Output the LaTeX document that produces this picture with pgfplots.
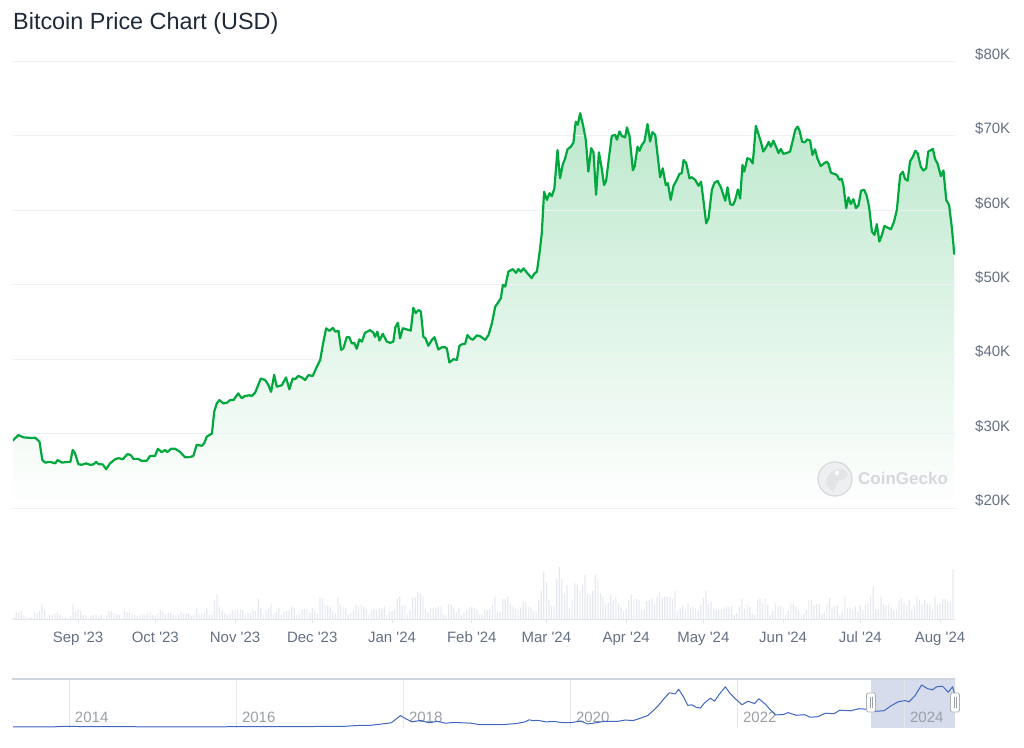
\documentclass[border=0pt]{standalone}
\usepackage{fontspec}
\setmainfont{Liberation Sans}
\newfontfamily\lab{Liberation Sans}
\usepackage{pgfplots}
\usepackage{pgfplotstable}
\pgfplotsset{compat=1.18}

\definecolor{btcgreen}{HTML}{00A83E}
\definecolor{gridc}{HTML}{EEF1F4}
\definecolor{labc}{HTML}{647083}
\definecolor{titc}{HTML}{1E2939}
\definecolor{volc}{HTML}{E5E9EF}
\definecolor{volbase}{HTML}{E3E7EC}
\definecolor{navline}{HTML}{3F66C3}
\definecolor{navsel}{HTML}{D6DCEC}
\definecolor{navtext}{HTML}{9A9FA6}
\definecolor{navgrid}{HTML}{E3E6EB}
\definecolor{navtop}{HTML}{CDD3DF}
\definecolor{wmark}{HTML}{D5D8DC}

% price in thousand USD, x = days since 1 Sep 2023
\pgfplotstableread{
d p
-25.4 29.05
-23.2 29.8
-21.3 29.5
-18.0 29.4
-16.7 29.45
-15.0 28.9
-13.9 26.45
-12.8 26.1
-10.9 26.2
-8.9 26.0
-8.0 26.45
-6.3 26.1
-3.8 26.2
-3.0 26.2
-2.1 27.8
-1.2 27.35
0.1 25.9
1.4 25.8
3.1 26.0
4.7 25.8
5.9 25.85
7.0 26.2
7.9 25.9
9.6 25.85
10.9 25.2
12.4 26.0
14.4 26.55
15.7 26.7
17.4 26.55
19.2 27.25
20.5 27.1
21.5 26.6
23.4 26.6
24.5 26.35
26.7 26.35
28.0 27.0
29.9 27.0
31.0 27.95
32.5 27.5
33.8 27.8
34.7 27.5
36.1 27.95
37.7 27.95
39.6 27.55
41.6 26.8
43.5 26.85
44.8 27.0
46.1 28.5
48.1 28.35
49.0 28.7
50.0 29.6
52.0 30.0
52.9 32.95
53.9 34.05
54.9 34.5
56.5 34.05
57.8 34.15
59.1 34.5
60.4 34.5
62.2 35.4
63.6 34.75
64.9 35.05
66.6 35.15
67.5 35.05
68.8 35.5
71.0 37.4
72.7 37.2
74.0 36.5
75.0 35.6
76.2 37.9
77.2 36.3
79.2 36.5
80.8 37.55
82.1 35.95
83.4 37.4
84.3 37.3
85.6 37.75
86.9 37.55
88.2 37.2
89.5 37.85
91.2 37.75
92.8 39.0
94.1 39.9
95.1 41.9
96.4 44.15
97.7 43.8
99.0 44.2
99.9 43.7
101.2 43.8
102.2 41.25
103.1 41.45
104.4 42.95
105.4 42.95
106.4 42.1
107.3 42.2
108.3 41.4
109.3 42.65
110.3 42.35
111.5 43.55
113.5 43.9
114.8 43.55
115.4 43.0
116.3 43.7
117.1 42.5
118.4 43.4
120.0 42.35
121.3 42.2
122.5 42.35
123.3 44.3
124.3 44.9
125.1 42.8
126.2 44.15
127.7 44.0
129.3 43.85
130.3 46.9
131.2 46.2
132.3 46.6
133.2 46.4
134.2 43.0
135.0 42.8
136.1 41.8
137.5 42.6
138.5 42.95
140.0 41.3
141.4 41.6
142.6 41.6
143.3 41.45
144.3 39.55
145.9 40.0
147.2 39.9
148.2 41.8
149.5 42.05
150.4 42.05
151.3 43.25
152.4 42.8
153.4 42.6
155.0 43.2
156.2 43.1
158.2 42.6
159.5 43.25
160.8 44.8
162.1 47.05
163.4 47.7
164.3 48.2
165.1 50.0
166.0 49.75
167.2 51.75
168.9 52.1
170.2 51.6
171.1 52.1
172.1 51.75
173.1 52.2
174.6 51.55
176.3 50.9
177.2 51.45
178.3 51.75
179.3 54.2
180.2 56.9
181.1 62.5
182.2 61.4
183.2 62.3
184.1 61.9
185.1 62.95
186.3 68.1
187.3 64.3
188.4 66.2
189.3 67.0
190.2 68.2
191.5 68.55
192.5 69.1
193.4 71.9
194.2 71.5
195.1 73.05
196.2 71.5
197.3 69.5
198.3 65.2
199.4 68.35
200.3 67.8
201.3 62.1
202.4 67.8
203.5 65.65
204.4 63.4
205.2 63.95
206.5 67.6
207.4 70.0
208.7 70.15
209.4 69.5
210.4 70.6
211.3 70.0
212.6 69.8
213.3 71.15
214.3 70.0
215.6 65.4
216.3 65.9
217.4 68.55
218.2 68.0
219.1 68.8
220.1 69.25
221.3 71.6
222.3 69.25
223.2 70.5
224.3 70.15
224.9 68.35
226.2 64.45
227.2 65.65
228.4 63.4
229.2 63.65
230.3 61.4
231.4 63.3
232.7 64.1
233.7 64.9
234.6 65.0
235.3 66.75
236.3 66.4
237.6 64.3
238.5 64.45
239.8 64.1
241.1 63.3
242.1 63.85
243.0 61.4
244.1 58.25
245.0 58.95
246.3 62.75
247.3 63.7
248.5 63.95
249.8 63.1
251.5 61.3
252.4 63.1
253.4 60.85
254.4 60.7
255.3 61.3
256.4 62.8
257.3 61.6
258.2 66.1
258.9 65.2
260.1 67.0
261.2 66.85
262.2 66.3
263.4 71.35
264.4 70.25
265.3 69.25
266.3 67.9
267.4 68.5
268.4 69.2
269.2 68.55
270.2 69.35
271.3 68.5
272.2 67.7
273.1 68.25
274.1 67.6
275.4 67.7
276.7 67.9
277.8 69.45
278.7 70.8
279.6 71.25
280.3 70.8
281.4 69.2
282.5 69.15
283.4 69.55
284.5 69.35
285.4 67.45
286.4 68.2
287.3 67.0
288.6 65.95
289.9 66.3
290.9 66.55
291.6 66.25
292.6 65.05
293.8 64.9
294.9 64.75
295.8 64.1
296.7 64.25
297.4 63.4
298.5 60.3
299.4 61.75
300.3 60.85
301.3 61.5
302.3 60.3
303.3 60.7
304.3 62.65
305.5 62.75
306.5 61.95
307.4 60.5
308.5 57.15
309.5 56.7
310.4 58.15
311.4 55.8
312.4 56.7
313.4 57.9
314.5 57.7
315.9 57.45
317.1 58.5
318.2 60.05
319.5 64.75
320.5 65.2
321.4 64.2
322.4 64.0
323.3 66.55
324.4 67.2
325.4 68.0
326.3 67.65
327.5 65.85
328.5 65.35
329.6 65.65
330.4 67.9
332.2 68.25
333.1 66.85
334.0 66.3
335.3 64.6
336.3 65.35
337.4 61.4
338.5 60.7
339.6 57.6
340.5 54.15
}\price

% daily volume, billion USD
\pgfplotstableread[row sep=\\]{
d v\\
-25 2\\-24 10\\-23 10\\-22 12\\-21 6\\-20 2\\-19 2\\-18 2\\-17 10\\-16 8.5\\
-15 12\\-14 22\\-13 13.5\\-12 1\\-11 6\\-10 6\\-9 8.5\\-8 10\\-7 7\\-6 1\\
-5 2\\-4 1\\-3 5\\-2 22\\-1 11\\0 15\\1 12\\2 6\\3 6\\4 1\\
5 5\\6 6\\7 7\\8 3.5\\9 6\\10 1\\11 5\\12 12\\13 11\\14 8.5\\
15 7\\16 6\\17 1\\18 12\\19 10\\20 10\\21 7\\22 6\\23 5\\
24 5\\25 7\\26 6\\27 8.5\\28 11\\29 6\\30 5\\31 8.5\\32 13.5\\33 10\\
34 7\\35 10\\36 10\\37 6\\38 5\\39 7\\40 11\\41 8\\42 8\\
43 8.5\\44 5\\45 7\\46 17\\47 7\\48 8.5\\49 8.5\\50 17\\51 6\\52 7\\
53 28.5\\54 37\\55 18.5\\56 13.5\\57 8.5\\58 6\\59 8.5\\60 13.5\\61 12\\62 13.5\\
63 15\\64 13.5\\65 7\\66 10\\67 10\\68 13.5\\69 12\\70 30\\71 17\\72 7\\
73 13.5\\74 16\\75 22\\76 7\\77 11\\78 17\\79 6\\80 11\\81 12\\
82 13.5\\83 18.5\\84 17\\85 6\\86 7\\87 13.5\\88 15\\89 15\\90 10\\
91 17\\92 11\\93 8.5\\94 32\\95 31\\96 22\\97 20\\98 17\\99 12\\100 8.5\\
101 32\\102 21\\103 18.5\\104 16\\105 7\\106 10\\107 12\\108 21\\109 18.5\\
110 22\\111 18.5\\112 15\\113 7\\114 12\\115 15\\116 13.5\\117 16\\118 16\\119 18.5\\
120 6\\121 11\\122 12\\123 15\\124 30\\125 33.5\\126 20\\127 22\\128 7\\129 13.5\\
130 32\\131 32\\132 40\\133 38.5\\134 35\\135 15\\136 10\\137 17\\138 17\\139 16\\
140 18.5\\141 18.5\\142 7\\143 6\\144 23.5\\145 22\\146 16\\147 10\\148 17\\149 7\\
150 10\\151 13.5\\152 17\\153 18.5\\154 17\\155 13.5\\156 6\\
157 7\\158 13.5\\159 13.5\\160 15\\161 21\\162 33.5\\163 11\\164 10\\165 30\\166 30\\
167 33.5\\168 23.5\\169 18.5\\170 16\\171 13.5\\172 17\\173 26\\174 25\\175 18.5\\176 17\\
177 12\\178 12\\179 28.5\\180 42\\181 71\\182 54.5\\183 28.5\\184 20\\185 21\\186 60\\
187 78.5\\188 60\\189 38.5\\190 51\\191 17\\192 28.5\\193 53.5\\194 52\\195 42\\196 51\\
197 66\\198 38.5\\199 37\\200 42\\201 66\\202 58.5\\203 38.5\\204 33.5\\205 22\\206 25\\
207 36\\208 28.5\\209 32\\210 23.5\\211 18.5\\212 12\\213 15\\214 28.5\\215 36\\216 30\\
217 30\\218 28.5\\219 15\\220 13.5\\221 27\\222 28.5\\223 30\\224 22\\225 33.5\\226 40\\
227 32\\228 33.5\\229 33.5\\230 32\\231 30\\232 42\\233 12\\234 17\\235 20\\236 15\\
237 23.5\\238 17\\239 18.5\\240 16\\241 12\\242 21\\243 32\\244 42\\245 22\\246 26\\
247 16\\248 13.5\\249 13.5\\250 15\\251 15\\252 18.5\\253 18.5\\254 20\\255 6\\256 8.5\\
257 20\\258 30\\259 15\\260 22\\261 18.5\\262 8.5\\263 6\\264 28.5\\265 31\\266 23.5\\
267 31\\268 22\\269 6\\270 12\\271 23.5\\272 18.5\\273 20\\274 17\\275 7\\
276 12\\277 23.5\\278 23.5\\279 18.5\\280 13.5\\281 6\\282 7\\283 13.5\\284 28.5\\
285 28.5\\286 21\\287 22\\288 22\\289 7\\290 10\\291 22\\292 32\\293 17\\294 18.5\\
295 20\\296 6\\297 11\\298 33.5\\299 16\\300 17\\301 13.5\\302 18.5\\303 12\\
304 21\\305 13.5\\306 21\\307 23.5\\308 33.5\\309 48.5\\310 15\\311 15\\312 33.5\\313 22\\
314 21\\315 22\\316 17\\317 13.5\\318 15\\319 28.5\\320 31\\321 23.5\\322 21\\323 28.5\\
324 13.5\\325 21\\326 33.5\\327 28.5\\328 22\\329 28.5\\330 23.5\\331 23.5\\332 13.5\\333 33.5\\
334 22\\335 23.5\\336 30\\337 30\\338 26\\339 26\\340 75\\
}\volume

% long-term price for the navigator (year, thousand USD)
\pgfplotstableread{
t p
2013.32 0.14
2013.5 0.09
2013.8 0.2
2013.93 1.1
2014.1 0.8
2014.3 0.45
2014.5 0.62
2014.8 0.38
2015.0 0.3
2015.5 0.25
2015.9 0.4
2016.3 0.42
2016.5 0.66
2016.9 0.75
2017.0 1.0
2017.3 1.2
2017.45 2.5
2017.6 2.8
2017.7 4.4
2017.85 7.0
2017.96 19.0
2018.02 14.0
2018.1 8.5
2018.2 11.0
2018.3 7.0
2018.4 9.3
2018.5 6.3
2018.6 7.5
2018.8 6.4
2018.9 4.0
2019.0 3.8
2019.2 4.1
2019.35 5.8
2019.45 8.5
2019.5 12.0
2019.55 10.5
2019.6 11.2
2019.7 8.5
2019.8 9.2
2019.9 7.2
2020.0 7.2
2020.12 10.0
2020.2 5.0
2020.3 7.0
2020.4 9.5
2020.55 9.2
2020.65 11.5
2020.75 10.8
2020.85 15.5
2020.92 19.0
2021.0 29.0
2021.05 36.0
2021.12 48.0
2021.18 57.0
2021.25 55.0
2021.29 63.0
2021.35 50.0
2021.4 36.0
2021.45 37.0
2021.5 33.0
2021.55 31.5
2021.6 40.0
2021.67 48.0
2021.72 43.0
2021.78 55.0
2021.85 67.0
2021.9 57.0
2021.97 47.0
2022.05 37.0
2022.12 43.0
2022.2 39.0
2022.25 47.0
2022.33 38.0
2022.38 30.0
2022.45 20.0
2022.55 21.0
2022.6 24.0
2022.7 19.5
2022.8 20.5
2022.86 16.5
2022.95 16.8
2023.05 23.0
2023.15 22.0
2023.22 28.0
2023.35 27.0
2023.45 30.5
2023.55 29.5
2023.62 26.0
2023.75 27.0
2023.83 35.0
2023.92 42.0
2024.0 44.0
2024.05 42.0
2024.12 52.0
2024.2 70.0
2024.27 64.0
2024.33 62.0
2024.38 67.0
2024.45 68.0
2024.52 58.0
2024.57 67.0
2024.6 54.0
}\navdata

\begin{document}
\begin{tikzpicture}
\useasboundingbox (0pt,0pt) rectangle (1024pt,747pt);

% title
\node[anchor=base west, inner sep=0pt, text=titc] at (13pt,717pt)
  {\lab\fontsize{23.4}{28}\selectfont Bitcoin Price Chart (USD)};

% price fill (behind grid)
\begin{axis}[at={(13pt,239pt)}, anchor=south west, scale only axis,
  width=942pt, height=446.5pt,
  xmin=-25.3, xmax=340.8, ymin=20, ymax=80, hide axis]
\addplot[draw=none, top color=btcgreen!26!white, bottom color=white]
  table[x=d,y=p]{\price} \closedcycle;
\end{axis}

% watermark
\fill[wmark!40!white] (835pt,268pt) circle (17pt);
\draw[wmark, line width=1.2pt] (835pt,268pt) circle (17pt);
\fill[wmark!70!white] (826pt,262pt) .. controls (826pt,280pt) and (846pt,282pt) .. (848pt,272pt)
  -- (844pt,268pt) .. controls (838pt,268pt) and (834pt,262pt) .. (834pt,254pt) -- cycle;
\fill[white] (837pt,274pt) circle (2.2pt);
\node[anchor=base west, inner sep=0pt, text=wmark] at (858pt,262pt)
  {\lab\fontsize{17}{20}\selectfont\bfseries CoinGecko};

% price line, grid, y labels
\begin{axis}[at={(13pt,239pt)}, anchor=south west, scale only axis,
  width=942pt, height=446.5pt,
  xmin=-25.3, xmax=340.8, ymin=20, ymax=80,
  axis line style={draw=none}, tick style={draw=none}, major tick length=0pt,
  xtick=\empty,
  ytick={20,30,40,50,60,70,80},
  yticklabels={\$20K,\$30K,\$40K,\$50K,\$60K,\$70K,\$80K},
  yticklabel pos=right,
  yticklabel style={anchor=base west, inner sep=0pt, xshift=20pt, yshift=2.3pt,
    text=labc, font=\lab\fontsize{15}{18}\selectfont},
  ymajorgrids, grid style={draw=gridc, line width=1pt}]
\addplot[btcgreen, line width=2.2pt, line join=round, line cap=round]
  table[x=d,y=p]{\price};
\end{axis}

% volume
\begin{axis}[at={(13pt,128pt)}, anchor=south west, scale only axis,
  width=942pt, height=60pt,
  xmin=-25.3, xmax=340.8, ymin=0, ymax=90,
  axis y line=none, axis x line=bottom,
  x axis line style={draw=volbase, line width=1pt, -},
  xtick={0,30,61,91,122,153,182,213,243,274,304,335},
  xticklabels={Sep '23,Oct '23,Nov '23,Dec '23,Jan '24,Feb '24,Mar '24,Apr '24,May '24,Jun '24,Jul '24,Aug '24},
  xtick style={draw=volbase, line width=1pt},
  major tick length=4pt, tick align=outside,
  xticklabel style={anchor=base, inner sep=0pt, yshift=-19.7pt,
    text=labc, font=\lab\fontsize{15}{18}\selectfont}]
\addplot[ybar, bar width=1.2pt, bar shift=0pt, fill=volc, draw=none]
  table[x=d,y=v]{\volume};
\end{axis}

% navigator
\fill[navsel] (871pt,19pt) rectangle (955pt,68pt);
\begin{axis}[at={(13pt,19pt)}, anchor=south west, scale only axis,
  width=942pt, height=49pt,
  xmin=2013.32, xmax=2024.6, ymin=-1.7, ymax=80,
  axis line style={draw=none}, tick style={draw=none}, major tick length=0pt,
  ytick=\empty,
  xtick={2014,2016,2018,2020,2022,2024},
  xticklabels={2014,2016,2018,2020,2022,2024},
  xticklabel style={anchor=base west, inner sep=0pt, xshift=5pt, yshift=5.5pt,
    text=navtext, font=\lab\fontsize{15}{18}\selectfont},
  xmajorgrids, grid style={draw=navgrid, line width=1pt}]
\addplot[navline, line width=1pt, line join=round] table[x=t,y=p]{\navdata};
\end{axis}
\draw[navtop, line width=1.2pt] (12pt,68pt) -- (955pt,68pt);
% handles
\foreach \hx in {871,955}{
  \draw[fill=white, draw=navtext!80, line width=0.8pt, rounded corners=1.5pt]
    (\hx pt-4.5pt,35pt) rectangle (\hx pt+4.5pt,54pt);
  \draw[navtext, line width=0.6pt] (\hx pt-1pt,39pt) -- (\hx pt-1pt,50pt) (\hx pt+1pt,39pt) -- (\hx pt+1pt,50pt);
}
\end{tikzpicture}
\end{document}
